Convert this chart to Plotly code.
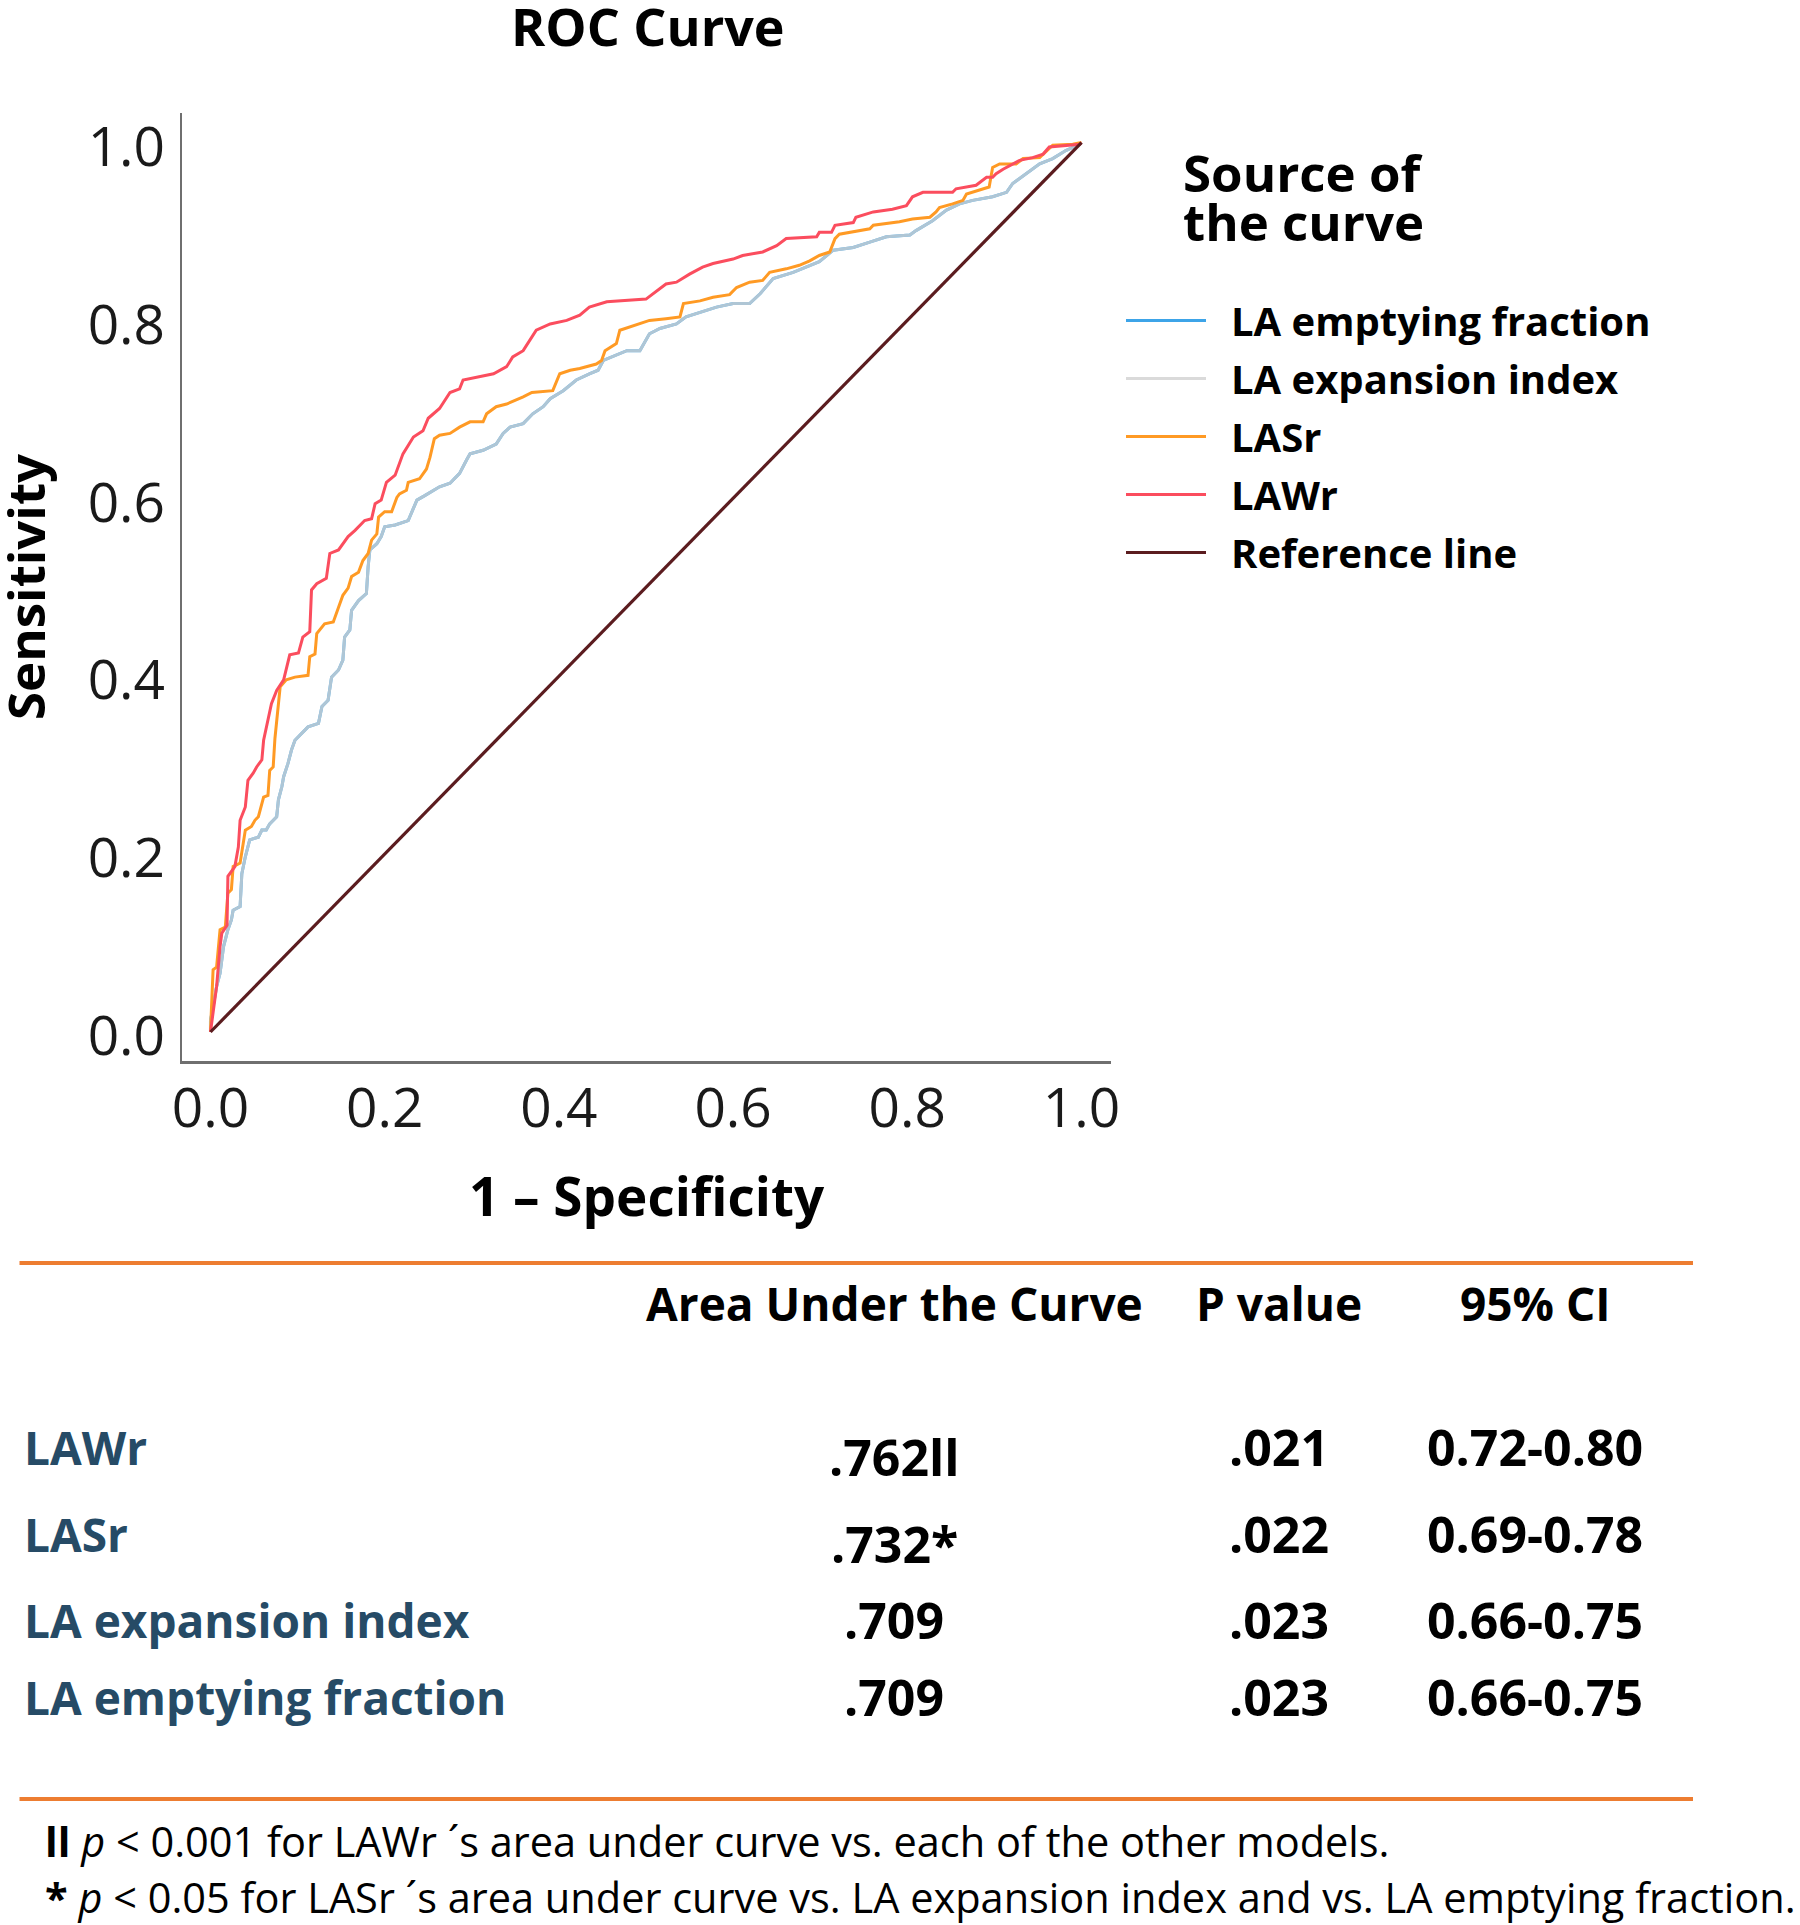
import plotly.graph_objects as go

W, H = 1800, 1925
FONT = "Open Sans, Noto Sans, sans-serif"

# ROC points: x = 1 - specificity, y = sensitivity
lawr_fpr = [0.000, 0.007, 0.011, 0.013, 0.019, 0.020, 0.028, 0.032, 0.034, 0.040,
            0.043, 0.049, 0.053, 0.059, 0.061, 0.065, 0.070, 0.076, 0.084, 0.091,
            0.101, 0.106, 0.114, 0.116, 0.122, 0.133, 0.137, 0.147, 0.158, 0.166,
            0.177, 0.185, 0.189, 0.196, 0.202, 0.212, 0.221, 0.233, 0.244, 0.250,
            0.263, 0.275, 0.286, 0.290, 0.305, 0.325, 0.340, 0.347, 0.359, 0.374,
            0.390, 0.409, 0.424, 0.435, 0.455, 0.500, 0.523, 0.535, 0.550, 0.565,
            0.577, 0.600, 0.611, 0.634, 0.650, 0.661, 0.696, 0.699, 0.713, 0.717,
            0.738, 0.741, 0.761, 0.783, 0.799, 0.806, 0.818, 0.852, 0.856, 0.879,
            0.891, 0.898, 0.902, 0.910, 0.929, 0.944, 0.956, 0.963, 0.998, 1.000]
lawr_tpr = [0.000, 0.051, 0.096, 0.111, 0.120, 0.175, 0.186, 0.208, 0.238, 0.253,
            0.283, 0.291, 0.298, 0.306, 0.328, 0.347, 0.369, 0.384, 0.396, 0.424,
            0.426, 0.444, 0.450, 0.497, 0.504, 0.510, 0.538, 0.542, 0.557, 0.564,
            0.575, 0.577, 0.594, 0.598, 0.618, 0.626, 0.650, 0.669, 0.676, 0.690,
            0.701, 0.719, 0.723, 0.733, 0.736, 0.740, 0.748, 0.759, 0.766, 0.789,
            0.796, 0.800, 0.806, 0.815, 0.821, 0.824, 0.841, 0.843, 0.852, 0.860,
            0.864, 0.869, 0.873, 0.877, 0.884, 0.892, 0.894, 0.899, 0.899, 0.907,
            0.910, 0.916, 0.922, 0.925, 0.929, 0.939, 0.944, 0.944, 0.948, 0.952,
            0.961, 0.961, 0.965, 0.970, 0.980, 0.983, 0.987, 0.995, 0.998, 1.000]

lasr_fpr = [0.000, 0.003, 0.007, 0.011, 0.017, 0.020, 0.024, 0.026, 0.034, 0.040,
            0.047, 0.051, 0.055, 0.061, 0.066, 0.068, 0.072, 0.074, 0.080, 0.087,
            0.097, 0.112, 0.114, 0.120, 0.122, 0.131, 0.141, 0.149, 0.152, 0.158,
            0.162, 0.170, 0.175, 0.181, 0.185, 0.191, 0.193, 0.200, 0.208, 0.214,
            0.217, 0.225, 0.227, 0.240, 0.248, 0.252, 0.257, 0.263, 0.275, 0.286,
            0.298, 0.313, 0.317, 0.328, 0.340, 0.359, 0.369, 0.393, 0.401, 0.413,
            0.424, 0.443, 0.449, 0.453, 0.466, 0.470, 0.485, 0.504, 0.523, 0.539,
            0.543, 0.562, 0.577, 0.596, 0.604, 0.619, 0.634, 0.642, 0.661, 0.676,
            0.688, 0.699, 0.711, 0.717, 0.722, 0.757, 0.761, 0.791, 0.806, 0.826,
            0.833, 0.837, 0.852, 0.864, 0.868, 0.887, 0.894, 0.898, 0.906, 0.925,
            0.933, 0.952, 0.967, 0.990, 1.000]
lasr_tpr = [0.000, 0.070, 0.073, 0.115, 0.118, 0.156, 0.160, 0.186, 0.190, 0.227,
            0.231, 0.238, 0.242, 0.264, 0.266, 0.294, 0.298, 0.330, 0.388, 0.396,
            0.399, 0.401, 0.422, 0.425, 0.448, 0.459, 0.461, 0.482, 0.491, 0.499,
            0.512, 0.517, 0.530, 0.538, 0.553, 0.560, 0.579, 0.585, 0.585, 0.601,
            0.605, 0.609, 0.618, 0.622, 0.633, 0.646, 0.667, 0.671, 0.673, 0.680,
            0.686, 0.686, 0.695, 0.703, 0.706, 0.714, 0.719, 0.721, 0.740, 0.744,
            0.746, 0.751, 0.755, 0.766, 0.774, 0.789, 0.794, 0.800, 0.802, 0.804,
            0.819, 0.822, 0.826, 0.829, 0.837, 0.843, 0.845, 0.854, 0.858, 0.862,
            0.867, 0.873, 0.877, 0.892, 0.897, 0.903, 0.907, 0.911, 0.914, 0.916,
            0.922, 0.927, 0.931, 0.935, 0.942, 0.948, 0.950, 0.972, 0.976, 0.976,
            0.982, 0.983, 0.997, 0.998, 1.000]

# LA expansion index and LA emptying fraction coincide (both AUC .709)
laei_fpr = [0.000, 0.000, 0.003, 0.007, 0.011, 0.015, 0.020, 0.024, 0.026, 0.034,
            0.036, 0.040, 0.045, 0.055, 0.059, 0.064, 0.068, 0.072, 0.076, 0.078,
            0.082, 0.084, 0.089, 0.093, 0.097, 0.112, 0.124, 0.128, 0.135, 0.139,
            0.147, 0.152, 0.154, 0.160, 0.162, 0.170, 0.179, 0.181, 0.183, 0.191,
            0.196, 0.200, 0.212, 0.227, 0.233, 0.237, 0.246, 0.256, 0.263, 0.275,
            0.286, 0.294, 0.298, 0.313, 0.328, 0.336, 0.344, 0.359, 0.370, 0.382,
            0.390, 0.405, 0.420, 0.435, 0.445, 0.451, 0.466, 0.478, 0.493, 0.504,
            0.516, 0.535, 0.546, 0.562, 0.581, 0.600, 0.619, 0.631, 0.646, 0.669,
            0.688, 0.699, 0.715, 0.738, 0.757, 0.776, 0.803, 0.810, 0.829, 0.845,
            0.860, 0.875, 0.898, 0.914, 0.921, 0.937, 0.952, 0.967, 0.982, 0.998,
            1.000]
laei_tpr = [0.000, 0.013, 0.028, 0.051, 0.066, 0.096, 0.115, 0.126, 0.137, 0.141,
            0.178, 0.197, 0.216, 0.219, 0.227, 0.227, 0.234, 0.238, 0.242, 0.261,
            0.276, 0.287, 0.302, 0.317, 0.328, 0.343, 0.347, 0.366, 0.373, 0.399,
            0.407, 0.418, 0.444, 0.452, 0.474, 0.485, 0.493, 0.523, 0.542, 0.549,
            0.557, 0.568, 0.570, 0.575, 0.590, 0.598, 0.603, 0.609, 0.613, 0.617,
            0.628, 0.643, 0.650, 0.654, 0.661, 0.673, 0.680, 0.684, 0.695, 0.703,
            0.712, 0.721, 0.733, 0.740, 0.744, 0.755, 0.761, 0.766, 0.766, 0.785,
            0.791, 0.796, 0.804, 0.809, 0.815, 0.819, 0.819, 0.830, 0.847, 0.854,
            0.862, 0.866, 0.879, 0.882, 0.888, 0.894, 0.896, 0.901, 0.912, 0.924,
            0.931, 0.935, 0.939, 0.944, 0.954, 0.965, 0.976, 0.982, 0.991, 0.998,
            1.000]
laef_fpr = laei_fpr
laef_tpr = laei_tpr

ref_x = [0.0, 1.0]
ref_y = [0.0, 1.0]

tick_vals = [0.0, 0.2, 0.4, 0.6, 0.8, 1.0]
tick_text = ["0.0", "0.2", "0.4", "0.6", "0.8", "1.0"]

table_cols = ["Area Under the Curve", "P value", "95% CI"]
table_rows = ["LAWr", "LASr", "LA expansion index", "LA emptying fraction"]
table_auc = [".762ll", ".732*", ".709", ".709"]
table_p = [".021", ".022", ".023", ".023"]
table_ci = ["0.72-0.80", "0.69-0.78", "0.66-0.75", "0.66-0.75"]

footnotes = [
    "<b>ll</b> <i>p</i> < 0.001 for LAWr \u00b4s area under curve vs. each of the other models.",
    "<b>*</b> <i>p</i> < 0.05 for LASr \u00b4s area under curve vs. LA expansion index and vs. LA emptying fraction.",
]


def px(x):
    return x / W


def py(y):
    return 1 - y / H


series = [
    ("LA emptying fraction", laef_fpr, laef_tpr, "#3da4e8"),
    ("LA expansion index", laei_fpr, laei_tpr, "rgba(208,208,208,0.78)"),
    ("LASr", lasr_fpr, lasr_tpr, "#ff9a24"),
    ("LAWr", lawr_fpr, lawr_tpr, "#fb4d5e"),
    ("Reference line", ref_x, ref_y, "#5b1c1f"),
]

fig = go.Figure()
for i, (name, xs, ys, col) in enumerate(series):
    fig.add_trace(go.Scatter(
        x=xs, y=ys, mode="lines", name="\u2002" + name, legendgroup=f"g{i}",
        line=dict(color=col, width=3.2 if name == "Reference line" else 3.0),
    ))

anns = []


def txt(x, y, text, size, bold=False, color="#000000", xanchor="center",
        yanchor="middle", angle=0):
    anns.append(dict(x=px(x), y=py(y), xref="paper", yref="paper", text=text,
                     showarrow=False, xanchor=xanchor, yanchor=yanchor, textangle=angle,
                     font=dict(family=FONT, size=size, color=color,
                               weight="bold" if bold else "normal")))


txt(648, 25, "ROC Curve", 52, bold=True)
txt(25, 587, "Sensitivity", 51, bold=True, angle=-90)
txt(647, 1195, "1 \u2013 Specificity", 53, bold=True)
txt(1181, 172, "Source of", 51, bold=True, xanchor="left")
txt(1181, 221, "the curve", 51, bold=True, xanchor="left")

# table
col_x = [894, 1279, 1535]
for cx, head in zip(col_x, table_cols):
    txt(cx, 1303, head, 46, bold=True)
row_y = [1447, 1534, 1620, 1697]
auc_shift = [10, 10, 0, 0]
for ry, lab, auc, sh, pv, ci in zip(row_y, table_rows, table_auc, auc_shift, table_p, table_ci):
    txt(22, ry, lab, 46, bold=True, color="#264b66", xanchor="left")
    txt(col_x[0], ry + sh, auc, 50, bold=True)
    txt(col_x[1], ry, pv, 50, bold=True)
    txt(col_x[2], ry, ci, 50, bold=True)

txt(43, 1841, footnotes[0], 41.5, xanchor="left")
txt(43, 1897, footnotes[1], 41.5, xanchor="left")

shapes = [
    dict(type="line", xref="paper", yref="paper", x0=px(19.5), x1=px(1693), y0=py(1263), y1=py(1263),
         line=dict(color="#ed7d31", width=4)),
    dict(type="line", xref="paper", yref="paper", x0=px(19.5), x1=px(1693), y0=py(1799), y1=py(1799),
         line=dict(color="#ed7d31", width=4)),
]

fig.update_layout(
    width=W, height=H,
    margin=dict(l=0, r=0, t=0, b=0, autoexpand=False),
    paper_bgcolor="white", plot_bgcolor="white",
    annotations=anns, shapes=shapes,
    xaxis=dict(domain=[px(182), px(1111)], range=[-0.0327, 1.0339], automargin=False,
               tickvals=tick_vals, ticktext=tick_text, ticks="",
               showline=True, linecolor="#6f6f6f", linewidth=2.5,
               showgrid=False, zeroline=False, ticklabelstandoff=-3,
               tickfont=dict(family=FONT, size=55, color="#1a1a1a")),
    yaxis=dict(domain=[py(1061), py(113)], range=[-0.0326, 1.0332], automargin=False,
               tickvals=tick_vals, ticktext=tick_text, ticks="",
               showline=True, linecolor="#6f6f6f", linewidth=2,
               showgrid=False, zeroline=False, ticklabelstandoff=4, ticklabelshift=4,
               tickfont=dict(family=FONT, size=55, color="#1a1a1a")),
    showlegend=True,
    legend=dict(x=px(1121), y=py(288), xanchor="left", yanchor="top",
                itemwidth=80, tracegroupgap=3, traceorder="grouped",
                bgcolor="rgba(0,0,0,0)",
                font=dict(family=FONT, size=40, color="#000000", weight="bold")),
)

fig.write_html("out.html", config={"displayModeBar": False},
               post_script="document.body.style.margin='0px';")
